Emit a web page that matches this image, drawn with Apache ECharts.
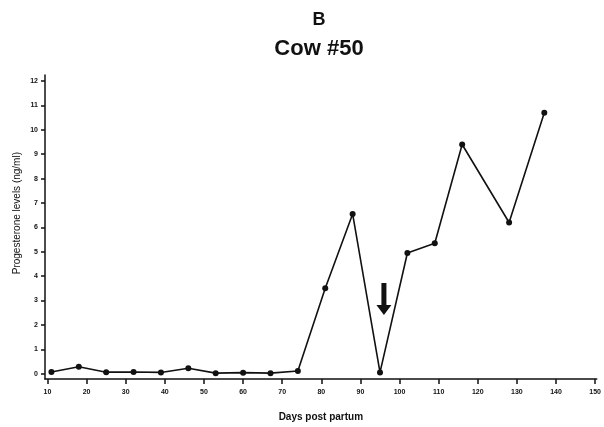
<!DOCTYPE html>
<html>
<head>
<meta charset="utf-8">
<script src="https://cdn.jsdelivr.net/npm/echarts@6/dist/echarts.min.js"></script>
<style>
  html, body { margin: 0; padding: 0; background: #fff; }
  #chart { width: 604px; height: 427px; }
</style>
</head>
<body>
<div id="chart"></div>
<script>
// Days post partum at which samples were taken
var days = [11, 18, 25, 32, 39, 46, 53, 60, 67, 74, 81, 88, 95, 102, 109, 116, 128, 137];
// Progesterone concentration (ng/ml)
var progesterone = [0.07, 0.28, 0.06, 0.07, 0.05, 0.22, 0.02, 0.04, 0.02, 0.11,
                    3.5, 6.55, 0.05, 4.95, 5.35, 9.4, 6.2, 10.7];
// Tick labels
var xTicks = [10, 20, 30, 40, 50, 60, 70, 80, 90, 100, 110, 120, 130, 140, 150];
var yTicks = [0, 1, 2, 3, 4, 5, 6, 7, 8, 9, 10, 11, 12];
// Arrow marking the sample at day 95
var arrowAt = [96, 3.06];

var font = 'Liberation Sans, Arial, sans-serif';
var chart = echarts.init(document.getElementById('chart'), null, { renderer: 'canvas' });

var points = days.map(function (d, i) { return [d, progesterone[i]]; });

chart.setOption({
  animation: false,
  backgroundColor: '#fff',
  title: [
    { text: 'B', left: 314, top: 6, textAlign: 'center',
      textStyle: { fontFamily: font, fontSize: 18, fontWeight: 'bold', color: '#111' } },
    { text: 'Cow #50', left: 314, top: 33, textAlign: 'center',
      textStyle: { fontFamily: font, fontSize: 22, fontWeight: 'bold', color: '#111' } }
  ],
  grid: { left: 45, right: 7, top: 75, bottom: 48, containLabel: false },
  xAxis: {
    type: 'value',
    min: 9.36,
    max: 150.4,
    name: 'Days post partum',
    nameLocation: 'middle',
    nameGap: 33,
    nameTextStyle: { fontFamily: font, fontSize: 10, fontWeight: 'bold', color: '#111' },
    axisLine: { show: true, onZero: false, lineStyle: { color: '#111', width: 1.5 } },
    axisTick: { show: true, length: 5, lineStyle: { color: '#111', width: 1.5 }, customValues: xTicks },
    axisLabel: { customValues: xTicks, margin: 10, fontFamily: font, fontSize: 7, fontWeight: 'bold', color: '#111' },
    splitLine: { show: false }
  },
  yAxis: {
    type: 'value',
    min: -0.22,
    max: 12.25,
    axisLine: { show: true, onZero: false, lineStyle: { color: '#111', width: 1.5 } },
    axisTick: { show: true, length: 4, lineStyle: { color: '#111', width: 1.5 }, customValues: yTicks },
    axisLabel: { customValues: yTicks, margin: 7, fontFamily: font, fontSize: 7, fontWeight: 'bold', color: '#111' },
    splitLine: { show: false }
  },
  graphic: [
    { type: 'text', left: 12, top: 152, rotation: Math.PI / 2,
      style: { text: 'Progesterone levels (ng/ml)', fontFamily: font, fontSize: 10, fill: '#111' } }
  ],
  series: [{
    type: 'line',
    data: points,
    symbol: 'circle',
    symbolSize: 6,
    itemStyle: { color: '#111' },
    lineStyle: { color: '#111', width: 1.6 },
    markPoint: {
      symbol: 'path://M4,0 L8,0 L8,22 L12,22 L6,32 L0,22 L4,22 Z',
      symbolSize: [15, 32],
      itemStyle: { color: '#111' },
      label: { show: false },
      data: [{ coord: arrowAt }]
    }
  }]
});
</script>
</body>
</html>
